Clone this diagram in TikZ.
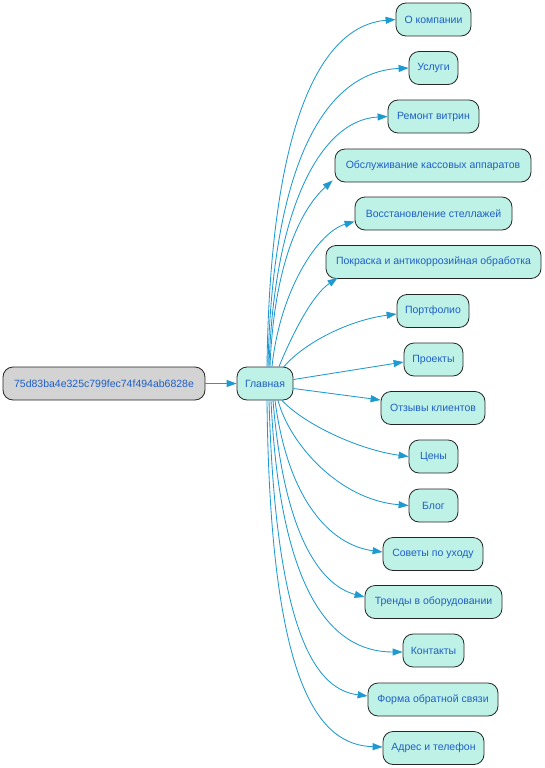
\documentclass[tikz,border=0pt]{standalone}
\usepackage{fontspec}
\setmainfont{Liberation Sans}
\usetikzlibrary{arrows.meta}
\definecolor{txt}{HTML}{1F5FC4}
\definecolor{edgec}{HTML}{1E9AD0}
\definecolor{fillc}{HTML}{BEF2E7}
\definecolor{rootfill}{HTML}{D3D3D3}
\tikzset{
  box/.style={draw=black!85, line width=0.8pt, rounded corners=10pt, fill=fillc,
    text=txt, font=\fontsize{10.5}{12}\selectfont, minimum height=33pt,
    inner xsep=4pt, inner ysep=0pt},
  rootbox/.style={box, fill=rootfill},
  edge/.style={draw=edgec, line width=0.85pt, -{Triangle[length=10pt,width=7pt]}}
}
\begin{document}
\begin{tikzpicture}[x=1pt,y=-1pt]
\useasboundingbox (0,0) rectangle (545,768);
\node[rootbox, minimum width=202pt] (r) at (104,383.5) {75d83ba4e325c799fec74f494ab6828e};
\node[box, minimum width=56pt] (g) at (265,383.5) {Главная};
\node[box, minimum width=75pt] (n1) at (433.5,19.5) {О компании};
\node[box, minimum width=49pt] (n2) at (433.5,68) {Услуги};
\node[box, minimum width=91pt] (n3) at (433.5,116.5) {Ремонт витрин};
\node[box, minimum width=196pt] (n4) at (433,165.5) {Обслуживание кассовых аппаратов};
\node[box, minimum width=157pt] (n5) at (433.5,213.5) {Восстановление стеллажей};
\node[box, minimum width=215pt] (n6) at (433.5,262) {Покраска и антикоррозийная обработка};
\node[box, minimum width=72pt] (n7) at (433,311) {Портфолио};
\node[box, minimum width=59pt] (n8) at (433.5,359.5) {Проекты};
\node[box, minimum width=104pt] (n9) at (433,408) {Отзывы клиентов};
\node[box, minimum width=49pt] (n10) at (433.5,456.5) {Цены};
\node[box, minimum width=49pt] (n11) at (433.5,505.5) {Блог};
\node[box, minimum width=100pt] (n12) at (433,554) {Советы по уходу};
\node[box, minimum width=137pt] (n13) at (433.5,602) {Тренды в оборудовании};
\node[box, minimum width=61pt] (n14) at (433.5,650.5) {Контакты};
\node[box, minimum width=130pt] (n15) at (433,699.5) {Форма обратной связи};
\node[box, minimum width=101pt] (n16) at (433.5,748) {Адрес и телефон};

\draw[edge] (r) -- (g);
\draw[edge] ([xshift=2pt]g.north) .. controls (270,130) and (318,26) .. (n1.west);
\draw[edge] ([xshift=3pt]g.north) .. controls (272,170) and (322,72) .. (n2.west);
\draw[edge] ([xshift=4pt]g.north) .. controls (274,210) and (320,120) .. (n3.west);
\draw[edge] ([xshift=5pt]g.north) .. controls (274,265) and (300,210) .. ([xshift=-2pt,yshift=2pt]n4.south west);
\draw[edge] ([xshift=7pt]g.north) .. controls (280,290) and (318,232) .. ([yshift=-8pt]n5.west);
\draw[edge] ([xshift=14pt]g.north) .. controls (292,335) and (312,295) .. ([xshift=12pt,yshift=1pt]n6.south west);
\draw[edge] ([xshift=19pt]g.north) .. controls (305,342) and (350,320) .. ([yshift=-3pt]n7.west);
\draw[edge] ([yshift=4pt]g.east) -- ([yshift=-2.5pt]n8.west);
\draw[edge] ([yshift=-5pt]g.east) -- ([yshift=8pt]n9.west);
\draw[edge] ([xshift=17pt]g.south) .. controls (305,425) and (360,450) .. (n10.west);
\draw[edge] ([xshift=13pt]g.south) .. controls (290,445) and (340,500) .. (n11.west);
\draw[edge] ([xshift=10pt]g.south) .. controls (288,500) and (330,545) .. ([yshift=2pt]n12.west);
\draw[edge] ([xshift=8pt]g.south) .. controls (284,535) and (320,585) .. ([yshift=5pt]n13.west);
\draw[edge] ([xshift=6pt]g.south) .. controls (280,590) and (330,652) .. ([yshift=-1.5pt]n14.west);
\draw[edge] ([xshift=4pt]g.south) .. controls (276,645) and (320,690) .. ([yshift=3.5pt]n15.west);
\draw[edge] ([xshift=2pt]g.south) .. controls (270,690) and (320,745) .. ([yshift=1pt]n16.west);
\end{tikzpicture}
\end{document}
